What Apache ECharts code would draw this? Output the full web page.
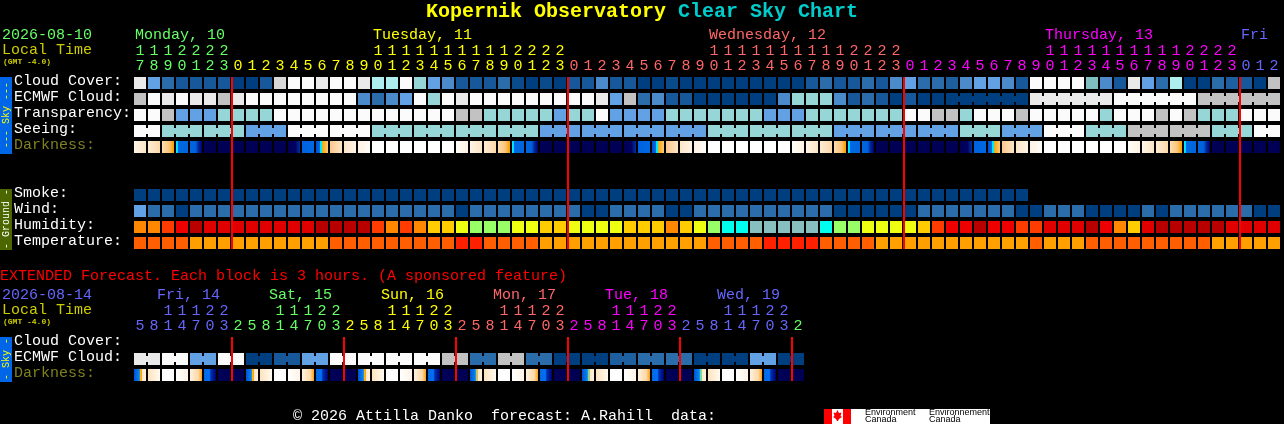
<!DOCTYPE html>
<html><head><meta charset="utf-8">
<style>html,body{margin:0;padding:0;background:#000}#c{width:1284px;height:424px}</style>
<script src="https://cdn.jsdelivr.net/npm/echarts@6/dist/echarts.min.js"></script>
</head><body><div id="c"></div>
<script>
// ---- axes ----
const hourlyHours = [17,18,19,20,21,22,23,
 0,1,2,3,4,5,6,7,8,9,10,11,12,13,14,15,16,17,18,19,20,21,22,23,
 0,1,2,3,4,5,6,7,8,9,10,11,12,13,14,15,16,17,18,19,20,21,22,23,
 0,1,2,3,4,5,6,7,8,9,10,11,12,13,14,15,16,17,18,19,20,21,22,23,
 0,1,2];
const hourlyDays = [0,0,0,0,0,0,0,
 1,1,1,1,1,1,1,1,1,1,1,1,1,1,1,1,1,1,1,1,1,1,1,1,
 2,2,2,2,2,2,2,2,2,2,2,2,2,2,2,2,2,2,2,2,2,2,2,2,
 3,3,3,3,3,3,3,3,3,3,3,3,3,3,3,3,3,3,3,3,3,3,3,3,
 4,4,4];
const extendedHours = [5,8,11,14,17,20,23,
 2,5,8,11,14,17,20,23, 2,5,8,11,14,17,20,23, 2,5,8,11,14,17,20,23,
 2,5,8,11,14,17,20,23, 2,5,8,11,14,17,20,23, 2];
const extendedDays = [4,4,4,4,4,4,4,
 0,0,0,0,0,0,0,0, 1,1,1,1,1,1,1,1, 2,2,2,2,2,2,2,2,
 3,3,3,3,3,3,3,3, 4,4,4,4,4,4,4,4, 0];
const hourlyRows = ['Cloud Cover:','ECMWF Cloud:','Transparency:','Seeing:','Darkness:','','','Smoke:','Wind:','Humidity:','Temperature:'];
const extendedRows = ['Cloud Cover:','ECMWF Cloud:','Darkness:'];
const dayHeads = [[0,'Monday, 10',0],[17,'Tuesday, 11',1],[41,'Wednesday, 12',2],[65,'Thursday, 13',3],[79,'Fri',4]];
const extDayHeads = [[2,'Fri, 14',4],[10,'Sat, 15',0],[18,'Sun, 16',1],[26,'Mon, 17',2],[34,'Tue, 18',3],[42,'Wed, 19',4]];
const midnightBlocks = [7,31,55,79];
const extMidnightBlocks = [7,15,23,31,39,47];

// ---- hourly forecast ----
const cloudCover = [90,40,20,10,10,10,10,0,0,10,85,100,100,90,100,100,90,70,70,100,60,
 40,30,10,10,10,20,5,0,5,0,10,10,30,10,10,0,0,5,0,0,0,0,0,0,0,0,
 0,10,20,10,10,20,10,30,40,20,20,15,30,40,40,30,10,
 100,100,100,100,50,30,10,90,40,20,70,0,0,20,15,10,0,80];
const ecmwfCloud = [80,100,90,100,90,90,80,90,100,100,100,100,100,100,100,100,30,20,30,40,100,60,100,90,
 100,100,100,100,100,100,100,100,100,90,40,80,20,30,10,10,0,0,0,0,0,0,30,60,60,60,30,10,20,10,0,10,0,0,
 0,0,0,0,0,0, 90,90,90,90,90,90, 100,100,100,100,100,100, 80,80,80,80,80,80];
const transparency = [100,100,80,40,40,40,60,60,60,60,
 100,100,100,100,100,100,100,100,100,100,100,100,100,80,80,60,60,60,60,60,40,60,60,100,40,40,40,40,
 60,60,60,60,60,60,60,40,40,40,60,60,60,60,60,60,60,100,100,80,80,60,100,100,100,80,
 100,100,100,100,100,60,100,100,100,80,100,80,60,60,60,100,100,100];
const seeing = [100,100, 60,60,60, 60,60,60, 40,40,40, 100,100,100, 100,100,100, 60,60,60, 60,60,60, 60,60,60, 60,60,60,
 40,40,40, 40,40,40, 40,40,40, 40,40,40, 60,60,60, 60,60,60, 60,60,60, 40,40,40, 40,40,40, 40,40,40,
 60,60,60, 40,40,40, 100,100,100, 60,60,60, 80,80,80, 80,80,80, 60,60,60, 100,100];
const darkness = [2,3,4,5,6,7,7,7,7,7,7,8,9,10,11,12,13,0,0,0,0,0,0,1,2,3,4,5,6,7,7,7,7,7,7,8,9,10,11,12,13,
 0,0,0,0,0,0,1,2,3,4,5,6,7,7,7,7,7,7,8,9,10,11,12,13,0,0,0,0,0,0,1,2,3,4,5,6,7,7,7,7,7];
const smoke = [0,0,0,0,0,0,0,0,0,0,0,0,0,0,0,0,0,0,0,0,0,0,0,0,0,0,0,0,0,0,0,0,
 0,0,0,0,0,0,0,0,0,0,0,0,0,0,0,0,0,0,0,0,0,0,0,0,0,0,0,0,0,0,0,0];
const wind = [40,20,20,0,20,20,20,20,20,20,20,20,20,20,20,20,20,20,20,20,20,20,20,0,20,20,20,20,20,20,20,20,0,0,
 20,20,20,20,0,0,20,20,20,20,20,20,20,20,20,20,0,0,0,0,0,0,20,20,20,20,20,20,20,0,0,20,20,20,0,0,0,0,20,0,20,20,20,20,20,20,0,0];
const humidity = [70,70,80,85,97,90,90,90,90,90,90,90,90,97,97,97,97,80,70,80,70,60,60,50,40,40,40,50,50,60,60,50,50,50,50,60,60,60,70,60,50,40,30,30,25,25,25,25,25,30,40,40,
 50,50,50,50,60,80,85,85,97,85,85,80,80,90,90,90,97,85,70,60,90,97,97,97,97,97,90,90,90,90];
const temperature = [23,23,23,23,20,20,20,20,20,20,20,20,20,20,23,23,23,23,23,23,23,23,23,26,26,23,23,23,23,20,20,20,20,20,20,20,20,20,20,20,20,23,23,23,23,26,26,26,26,23,23,23,
 23,20,20,20,20,20,20,20,20,20,20,20,23,20,20,20,23,23,23,23,23,23,23,23,23,20,20,20,20,20];

// ---- extended forecast ----
const extEcmwfCloud = [90,90,100,100,40,40,100,100,0,0,10,10,40,40,100,100,100,100,100,100,100,100,80,80,20,20,80,80,20,20,0,0,0,0,15,15,20,20,20,20,0,0,0,0,40,40,0,0];
const extDarkness = [20,21,22,23,24,25,7,7, 20,21,22,23,24,25,7,7, 20,21,22,23,24,25,7,7,
 26,21,22,23,24,25,7,7, 27,21,22,23,24,25,7,7, 28,21,22,23,24,25,7,7];

// ---- colour tables ----
const skyColor = {0:'#003f7f',5:'#0a4b8c',10:'#17589b',15:'#1d5f9f',20:'#2b6cab',30:'#4b8bcb',40:'#62a2e4',50:'#7fbfbf',60:'#96d6d6',70:'#aeeeee',80:'#c2c2c2',85:'#d8d8d8',90:'#eaeaea',100:'#fbfbfb'};
const humidityColor = {97:'#b80000',90:'#e00000',85:'#ee0000',80:'#ff3c00',70:'#ff8800',60:'#ffcc00',50:'#eeff11',40:'#99ff66',30:'#00ffee',25:'#88c0c0'};
const temperatureColor = {20:'#ffa000',23:'#ff5f00',26:'#ff2000'};
const darkStops = {
 0:[[0,'#ffffff'],[1,'#ffffff']],
 1:[[0,'#fffdf8'],[1,'#fff2e2']],
 2:[[0,'#fff5e7'],[1,'#fde4c6']],
 3:[[0,'#fdecd6'],[1,'#fcd9a8']],
 4:[[0,'#fcdcb0'],[.6,'#fbc578'],[1,'#ff9c00']],
 5:[[0,'#00f0ff'],[.12,'#00e0ff'],[.2,'#0068e0'],[1,'#0066e0']],
 6:[[0,'#0066e0'],[.5,'#0060dc'],[.65,'#0030a0'],[1,'#000070']],
 7:[[0,'#000058'],[1,'#000052']],
 8:[[0,'#000058'],[.6,'#000060'],[1,'#0030a0']],
 9:[[0,'#0062e0'],[1,'#0068e4']],
 10:[[0,'#0050d0'],[.3,'#0068e0'],[.36,'#00e0ff'],[.5,'#00f0ff'],[.55,'#ffa800'],[1,'#fdc880']],
 11:[[0,'#fcc88a'],[1,'#fde6c6']],
 12:[[0,'#fde6c8'],[1,'#fff4e6']],
 13:[[0,'#fff2e2'],[1,'#fffcf8']],
 20:[[0,'#0050d8'],[.45,'#0088f0'],[.5,'#ffb030'],[.66,'#ffa800'],[.7,'#ffe8c8'],[1,'#fff0dc']],
 21:[[0,'#fde2bc'],[1,'#fffaf2']],
 22:[[0,'#ffffff'],[1,'#ffffff']],
 23:[[0,'#ffffff'],[1,'#fff4e6']],
 24:[[0,'#fff0dc'],[.7,'#fcd9a8'],[1,'#ffa010']],
 25:[[0,'#0068e8'],[.5,'#0070f0'],[.55,'#0030b0'],[1,'#000070']],
 26:[[0,'#0050d8'],[.45,'#0088f0'],[.5,'#d8c060'],[.66,'#c8c060'],[.7,'#ffe8c8'],[1,'#fff0dc']],
 27:[[0,'#0050d8'],[.45,'#0088f0'],[.5,'#a0d080'],[.66,'#90d090'],[.7,'#ffe8c8'],[1,'#fff0dc']],
 28:[[0,'#0050d8'],[.45,'#0088f0'],[.5,'#60e0a0'],[.66,'#80d8a0'],[.7,'#ffe8c8'],[1,'#fff0dc']]
};
const dayColors = ['#66ff66','#ffff00','#ff6666','#ff00ff','#6666ff'];

const MONO = '"Liberation Mono","DejaVu Sans Mono",monospace';
const textFont = '15px ' + MONO;

function gradient(code){
  return {type:'linear',x:0,y:0,x2:1,y2:0,colorStops:darkStops[code].map(s=>({offset:s[0],color:s[1]}))};
}
function blockSeries(name, grid, row, values, fill, joined){
  return {
    name, type:'custom', xAxisIndex:grid?3:0, yAxisIndex:grid, z:2, animation:false,
    encode:{x:0,y:1},
    data: values.map((v,i)=>[i,row,v,joined&&i<values.length-1&&joined(i)?1:0]),
    renderItem(p,api){
      const c=api.coord([api.value(0),api.value(1)]);
      const x=c[0]-6,y=c[1]-6, f=fill(api.value(2));
      const kids=[{type:'rect',shape:{x,y,width:12,height:12},style:{fill:f}}];
      if(api.value(3)) kids.push({type:'rect',shape:{x:x+12,y:y+3,width:2,height:6},style:{fill:f}});
      return {type:'group',children:kids};
    }
  };
}
function lineSeries(name, grid, blocks, lastRow){
  return {
    name, type:'custom', xAxisIndex:grid?3:0, yAxisIndex:grid, z:10, animation:false,
    encode:{x:0,y:1},
    data: blocks.map(b=>[b,0]),
    renderItem(p,api){
      const a=api.coord([api.value(0),0]), b=api.coord([api.value(0),lastRow]);
      return {type:'rect',shape:{x:a[0]-7,y:a[1]-6,width:2,height:b[1]-a[1]+12},style:{fill:'#ff0000'}};
    }
  };
}
function headSeries(name, grid, heads, dx, topY){
  return {
    name, type:'custom', xAxisIndex:grid?3:0, yAxisIndex:grid, z:3, animation:false,
    encode:{x:0,y:1},
    data: heads.map(h=>[h[0],0,h[2]]),
    renderItem(p,api){
      const c=api.coord([api.value(0),0]);
      return {type:'text',style:{text:heads[p.dataIndexInside][1],x:c[0]+dx,y:topY,font:textFont,fill:dayColors[api.value(2)],textAlign:'left',textVerticalAlign:'middle'}};
    }
  };
}
function hourAxis(grid, hours, days, kind, offset){
  return {
    type:'category', gridIndex:grid, position:'top', offset, data:hours.map(String),
    axisLine:{show:false}, axisTick:{show:false}, splitLine:{show:false},
    axisLabel:{show:true, interval:0, margin:1, fontFamily:MONO, fontSize:15,
      hideOverlap:false,
      color:(v,i)=>dayColors[days[i]],
      formatter:kind==='tens'?(v=>v>=10?String(Math.floor(v/10)):''):(v=>String(v%10))}
  };
}
function rowAxis(grid, rows){
  const tok={fontFamily:MONO,fontSize:15,lineHeight:14,padding:[0,0,4,0]};
  return {
    type:'category', gridIndex:grid, inverse:true, data:rows,
    axisLine:{show:false}, axisTick:{show:false}, splitLine:{show:false},
    axisLabel:{show:true, interval:0, margin:119, align:'left', fontFamily:MONO, fontSize:15,
      formatter:v=>v?(v==='Darkness:'?'{d|'+v+'}':'{w|'+v+'}'):'',
      rich:{w:Object.assign({color:'#ffffff'},tok),d:Object.assign({color:'#808020'},tok)}}
  };
}
const sky=v=>skyColor[v];
const option = {
  backgroundColor:'#000', animation:false,
  grid:[{left:133,top:75,width:1148,height:176,containLabel:false},{left:133,top:335,width:672,height:48}],
  xAxis:[hourAxis(0,hourlyHours,hourlyDays,'units',0),hourAxis(0,hourlyHours,hourlyDays,'tens',15),
         hourAxis(1,extendedHours,extendedDays,'units',0),hourAxis(1,extendedHours,extendedDays,'tens',15)],
  yAxis:[rowAxis(0,hourlyRows),rowAxis(1,extendedRows)],
  series:[
    blockSeries('Cloud Cover',0,0,cloudCover,sky),
    blockSeries('ECMWF Cloud',0,1,ecmwfCloud,sky,i=>i>=58&&(i-58)%6!==5),
    blockSeries('Transparency',0,2,transparency,sky),
    blockSeries('Seeing',0,3,seeing,sky,i=>(i+1)%3!==2),
    blockSeries('Darkness',0,4,darkness,gradient),
    blockSeries('Smoke',0,7,smoke,sky),
    blockSeries('Wind',0,8,wind,sky),
    blockSeries('Humidity',0,9,humidity,v=>humidityColor[v]),
    blockSeries('Temperature',0,10,temperature,v=>temperatureColor[v]),
    lineSeries('Midnight',0,midnightBlocks,10),
    headSeries('Days',0,dayHeads,-5,35),
    blockSeries('ECMWF Cloud ext',1,1,extEcmwfCloud,sky,i=>i%2===0),
    blockSeries('Darkness ext',1,2,extDarkness,gradient),
    lineSeries('Midnight ext',1,extMidnightBlocks,2),
    headSeries('Days ext',1,extDayHeads,-11,295)
  ],
  graphic:[
    {type:'text',x:426,y:12,style:{text:'Kopernik Observatory',font:'bold 20px '+MONO,fill:'#ffff00',verticalAlign:'middle'}},
    {type:'text',x:678,y:12,style:{text:'Clear Sky Chart',font:'bold 20px '+MONO,fill:'#00cccc',verticalAlign:'middle'}},
    {type:'text',x:2,y:35,style:{text:'2026-08-10',font:textFont,fill:'#66ff66',verticalAlign:'middle'}},
    {type:'text',x:2,y:50,style:{text:'Local Time',font:textFont,fill:'#cccc00',verticalAlign:'middle'}},
    {type:'text',x:3,y:62,style:{text:'(GMT -4.0)',font:'bold 8px '+MONO,fill:'#cccc00',verticalAlign:'middle'}},
    {type:'rect',shape:{x:0,y:77,width:12,height:77},style:{fill:'#0066e8'}},
    {type:'text',x:6,y:115,rotation:Math.PI/2,style:{text:'--- Sky ---',font:'10px '+MONO,fill:'#ffff00',align:'center',verticalAlign:'middle'}},
    {type:'rect',shape:{x:0,y:189,width:12,height:61},style:{fill:'#4c6600'}},
    {type:'text',x:6,y:219,rotation:Math.PI/2,style:{text:'- Ground -',font:'10px '+MONO,fill:'#ffffff',align:'center',verticalAlign:'middle'}},
    {type:'text',x:0,y:276,style:{text:'EXTENDED Forecast. Each block is 3 hours. (A sponsored feature)',font:textFont,fill:'#ff0000',verticalAlign:'middle'}},
    {type:'text',x:2,y:295,style:{text:'2026-08-14',font:textFont,fill:'#6666ff',verticalAlign:'middle'}},
    {type:'text',x:2,y:310,style:{text:'Local Time',font:textFont,fill:'#cccc00',verticalAlign:'middle'}},
    {type:'text',x:3,y:322,style:{text:'(GMT -4.0)',font:'bold 8px '+MONO,fill:'#cccc00',verticalAlign:'middle'}},
    {type:'rect',shape:{x:0,y:337,width:12,height:45},style:{fill:'#0066e8'}},
    {type:'text',x:6,y:359,rotation:Math.PI/2,style:{text:'- Sky -',font:'10px '+MONO,fill:'#ffff00',align:'center',verticalAlign:'middle'}},
    {type:'text',x:293,y:416,style:{text:'\u00a9 2026 Attilla Danko  forecast: A.Rahill  data:',font:textFont,fill:'#ffffff',verticalAlign:'middle'}},
    {type:'rect',shape:{x:824,y:409,width:27,height:15},style:{fill:'#ff0000'}},
    {type:'rect',shape:{x:832,y:409,width:11,height:15},style:{fill:'#ffffff'}},
    {type:'polygon',shape:{points:[[837.5,410],[839,413],[841.5,412.5],[840.5,416],[842,417],[839,419],[838,421],[837,421],[836,419],[833,417],[834.5,416],[833.5,412.5],[836,413]]},style:{fill:'#ff0000'}},
    {type:'rect',shape:{x:851,y:409,width:139,height:15},style:{fill:'#ffffff'}},
    {type:'text',x:865,y:412.5,style:{text:'Environment',font:'9px "Liberation Sans"',fill:'#000',verticalAlign:'middle'}},
    {type:'text',x:865,y:420,style:{text:'Canada',font:'9px "Liberation Sans"',fill:'#000',verticalAlign:'middle'}},
    {type:'text',x:929,y:412.5,style:{text:'Environnement',font:'9px "Liberation Sans"',fill:'#000',verticalAlign:'middle'}},
    {type:'text',x:929,y:420,style:{text:'Canada',font:'9px "Liberation Sans"',fill:'#000',verticalAlign:'middle'}}
  ]
};
echarts.init(document.getElementById('c'),null,{renderer:'canvas'}).setOption(option);
</script></body></html>
